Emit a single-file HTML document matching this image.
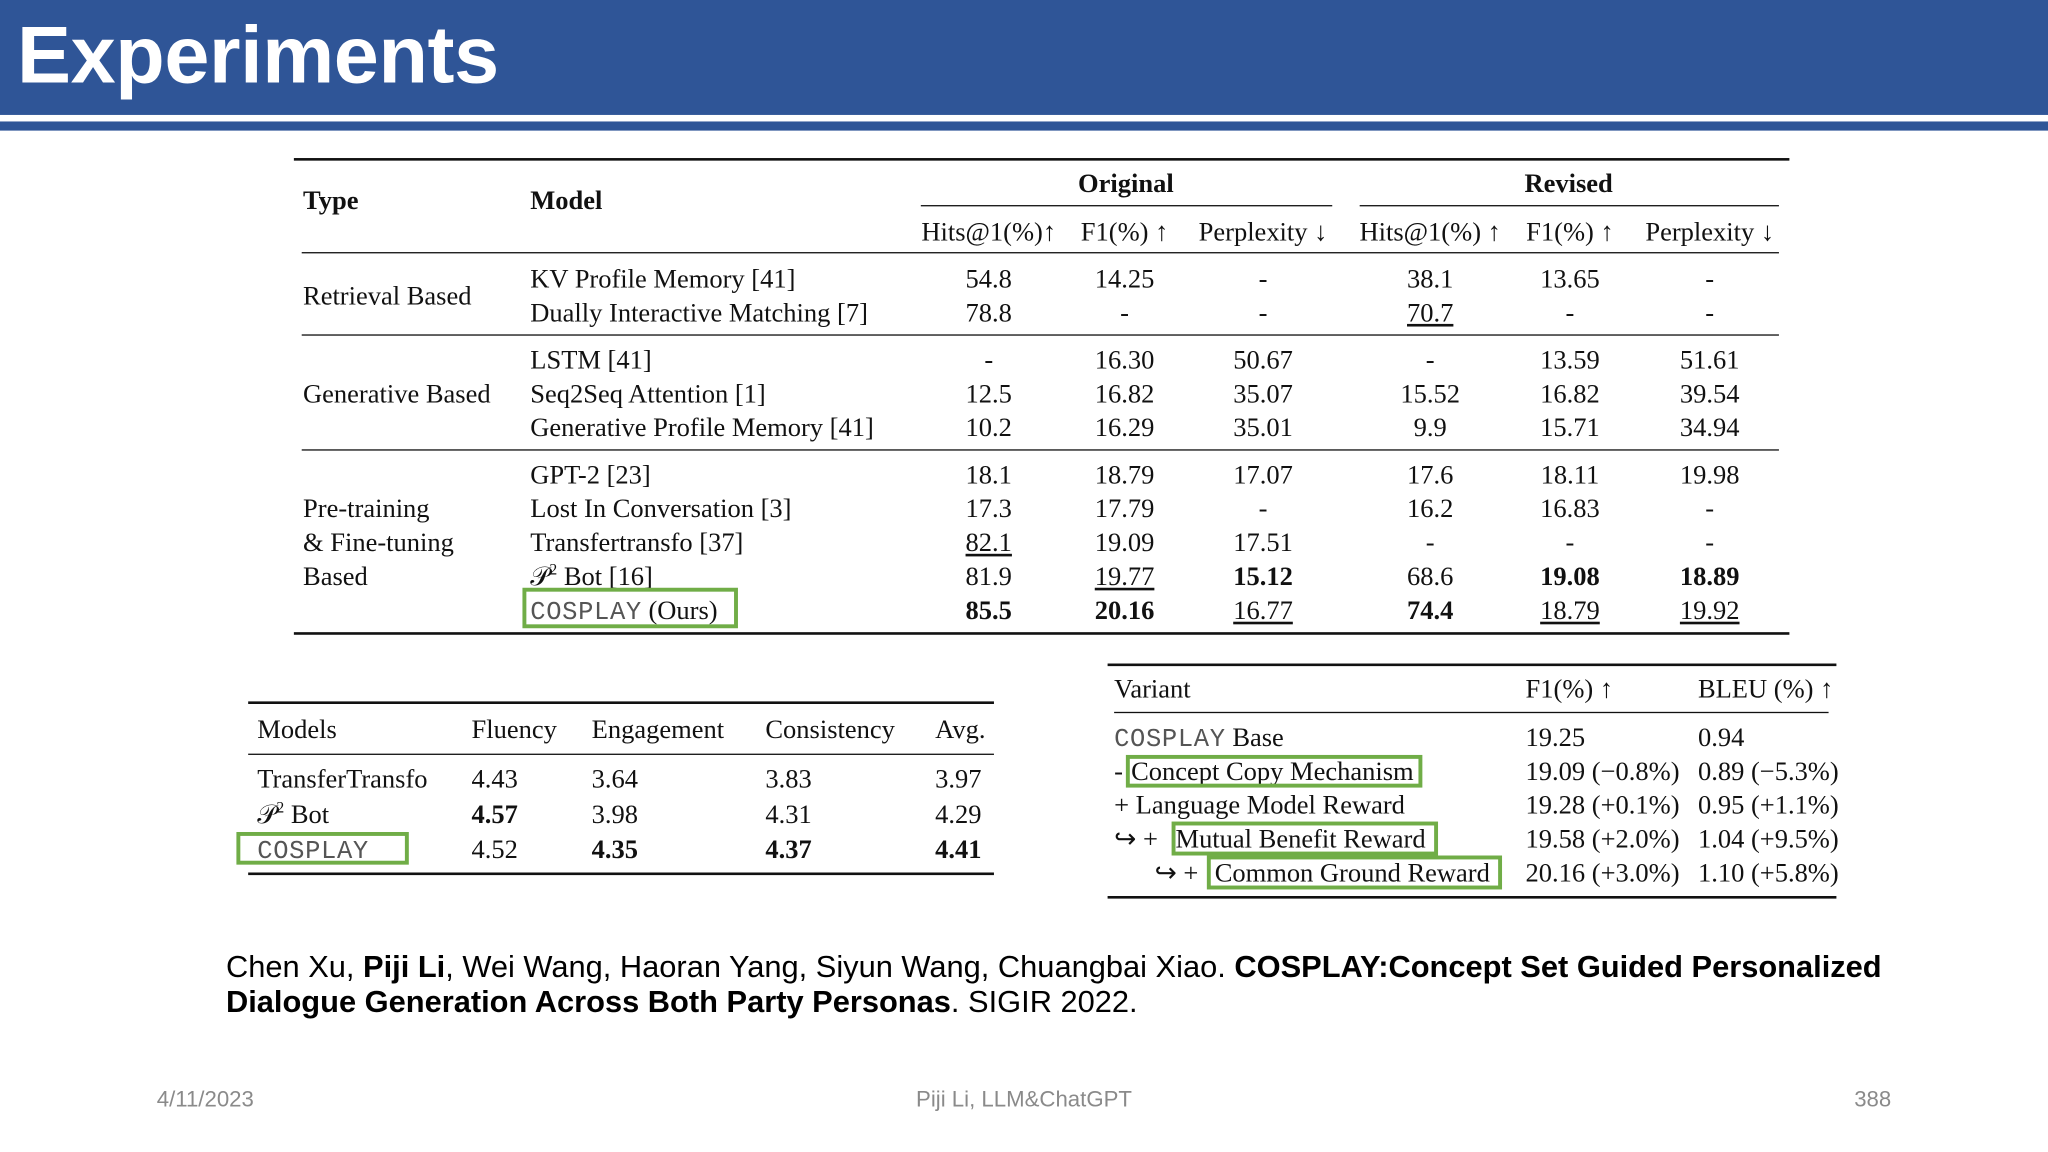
<!DOCTYPE html>
<html><head><meta charset="utf-8">
<style>
html,body{margin:0;padding:0;background:#fff;}
body{width:2048px;height:1152px;overflow:hidden;position:relative;}
#stage{position:absolute;left:0;top:0;width:1568px;height:882px;transform:scale(1.306122);transform-origin:0 0;}
.t{position:absolute;font-family:"Liberation Serif",serif;font-size:20.3px;color:#111;white-space:nowrap;line-height:22px;}
.c{transform:translateX(-50%);}
.b{font-weight:bold;}
.u{text-decoration:underline;text-underline-offset:3px;}
.r{position:absolute;background:#111;}
.g{position:absolute;border:3px solid #70ad47;box-sizing:border-box;}
.cos{font-family:"Liberation Mono",monospace;color:#555;letter-spacing:0.5px;font-size:19.5px;}
.sp{font-size:12px;position:relative;top:-8px;}
</style></head>
<body>
<div id="stage">
<div style="position:absolute;left:0;top:0;width:1568px;height:88px;background:#2f5597;"></div>
<div style="position:absolute;left:0;top:93px;width:1568px;height:7px;background:#2f5597;"></div>
<div style="position:absolute;left:13px;top:7px;font-family:'Liberation Sans',sans-serif;font-weight:bold;font-size:62px;color:#fff;line-height:72px;letter-spacing:-0.3px;">Experiments</div>
<div id="content"></div>
<div style="position:absolute;left:173px;top:728px;font-family:'Liberation Sans',sans-serif;font-size:23.6px;line-height:27px;color:#000;width:1320px;">Chen Xu, <b>Piji Li</b>, Wei Wang, Haoran Yang, Siyun Wang, Chuangbai Xiao. <b>COSPLAY:Concept Set Guided Personalized Dialogue Generation Across Both Party Personas</b>. SIGIR 2022.</div>
<div style="position:absolute;left:120px;top:832px;font-family:'Liberation Sans',sans-serif;font-size:17px;color:#8a8a8a;">4/11/2023</div>
<div style="position:absolute;left:784px;top:832px;transform:translateX(-50%);font-family:'Liberation Sans',sans-serif;font-size:17px;color:#8a8a8a;white-space:nowrap;">Piji Li, LLM&amp;ChatGPT</div>
<div style="position:absolute;left:1448px;top:832px;transform:translateX(-100%);font-family:'Liberation Sans',sans-serif;font-size:17px;color:#8a8a8a;">388</div>
</div>
<script>
var root=document.getElementById('content');
function T(x,y,html,cls,name){
  var el=document.createElement('div');
  el.className='t '+(cls||'');
  el.style.left=x+'px';el.style.top=(y-10)+'px';
  el.innerHTML=html;
  
  
  root.appendChild(el);
}
function R(x1,x2,y,h,name){
  var el=document.createElement('div');
  el.className='r';
  el.style.left=x1+'px';el.style.width=(x2-x1)+'px';el.style.top=y+'px';el.style.height=h+'px';
  
  
  root.appendChild(el);
}
function G(x1,y1,x2,y2,name){
  var el=document.createElement('div');
  el.className='g';
  el.style.left=x1+'px';el.style.top=y1+'px';el.style.width=(x2-x1)+'px';el.style.height=(y2-y1)+'px';
  
  
  root.appendChild(el);
}
var COS='<span class="cos">COSPLAY</span>';
var P2='𝒫<span class="sp">2</span> Bot';
// main table
R(225,1370,121,2,'main-top-rule');R(705,1020,157,1);R(1041,1362,157,1);
R(231,1362,193,1);R(231,1362,256,1);R(231,1362,344,1);R(225,1370,484,2,'main-bottom-rule');
T(232,153,'Type','b','type-header');T(406,153,'Model','b','model-header');
T(862,140,'Original','b c','original-header');T(1201,140,'Revised','b c','revised-header');
var mc=[757,861,967,1095,1202,1309];
var sub=['Hits@1(%)↑','F1(%) ↑','Perplexity ↓','Hits@1(%) ↑','F1(%) ↑','Perplexity ↓'];
sub.forEach(function(s,i){T(mc[i],177,s,'c','metric-header');});
T(232,226,'Retrieval Based','','type-label');
T(232,301,'Generative Based','','type-label');
T(232,389,'Pre-training','','type-label');T(232,415,'&amp; Fine-tuning','','type-label');T(232,441,'Based','','type-label');
var rows=[
[213,'KV Profile Memory [41]',['54.8','14.25','-','38.1','13.65','-']],
[239,'Dually Interactive Matching [7]',['78.8','-','-','<u>70.7</u>','-','-']],
[275,'LSTM [41]',['-','16.30','50.67','-','13.59','51.61']],
[301,'Seq2Seq Attention [1]',['12.5','16.82','35.07','15.52','16.82','39.54']],
[327,'Generative Profile Memory [41]',['10.2','16.29','35.01','9.9','15.71','34.94']],
[363,'GPT-2 [23]',['18.1','18.79','17.07','17.6','18.11','19.98']],
[389,'Lost In Conversation [3]',['17.3','17.79','-','16.2','16.83','-']],
[415,'Transfertransfo [37]',['<u>82.1</u>','19.09','17.51','-','-','-']],
[441,P2+' [16]',['81.9','<u>19.77</u>','<b>15.12</b>','68.6','<b>19.08</b>','<b>18.89</b>']],
[467,COS+' (Ours)',['<b>85.5</b>','<b>20.16</b>','<u>16.77</u>','<b>74.4</b>','<u>18.79</u>','<u>19.92</u>']]
];
rows.forEach(function(r){T(406,r[0],r[1],'','model-name');r[2].forEach(function(v,i){T(mc[i],r[0],v,'c','metric-value');});});
G(400,450,565,481,'cosplay-highlight-main');
// human eval table
R(190,761,537,2,'human-top-rule');R(190,761,577,1);R(190,761,668,2,'human-bottom-rule');
var hc=[197,361,453,586,716];
['Models','Fluency','Engagement','Consistency','Avg.'].forEach(function(s,i){T(hc[i],558,s,'','human-header');});
var hr=[[596,['TransferTransfo','4.43','3.64','3.83','3.97']],[623,[P2,'<b>4.57</b>','3.98','4.31','4.29']],[650,[COS,'4.52','<b>4.35</b>','<b>4.37</b>','<b>4.41</b>']]];
hr.forEach(function(r){r[1].forEach(function(v,i){T(hc[i],r[0],v,'','human-value');});});
G(181,637,313,662,'cosplay-highlight-human');
// ablation table
R(848,1406,508,2,'ablation-top-rule');R(853,1400,545,1);R(848,1406,686,2,'ablation-bottom-rule');
T(853,527,'Variant','','variant-header');T(1168,527,'F1(%) ↑','','f1-header');T(1300,527,'BLEU (%) ↑','','bleu-header');
var ar=[[564,'','19.25','0.94'],[590,'','19.09 (−0.8%)','0.89 (−5.3%)'],[616,'','19.28 (+0.1%)','0.95 (+1.1%)'],[642,'','19.58 (+2.0%)','1.04 (+9.5%)'],[668,'','20.16 (+3.0%)','1.10 (+5.8%)']];
ar.forEach(function(r){T(1168,r[0],r[2],'','f1-value');T(1300,r[0],r[3],'','bleu-value');});
T(853,564,COS+' Base','','variant-name');
T(853,590,'-','','variant-prefix');T(866,590,'Concept Copy Mechanism','','variant-name');
T(853,616,'+ Language Model Reward','','variant-name');
T(853,642,'↪ +','','variant-prefix');T(900,642,'Mutual Benefit Reward','','variant-name');
T(884,668,'↪ +','','variant-prefix');T(930,668,'Common Ground Reward','','variant-name');
G(862,578,1089,603,'concept-copy-highlight');G(897,629,1101,655,'mutual-benefit-highlight');G(924,655,1150,681,'common-ground-highlight');
</script>
</body></html>
